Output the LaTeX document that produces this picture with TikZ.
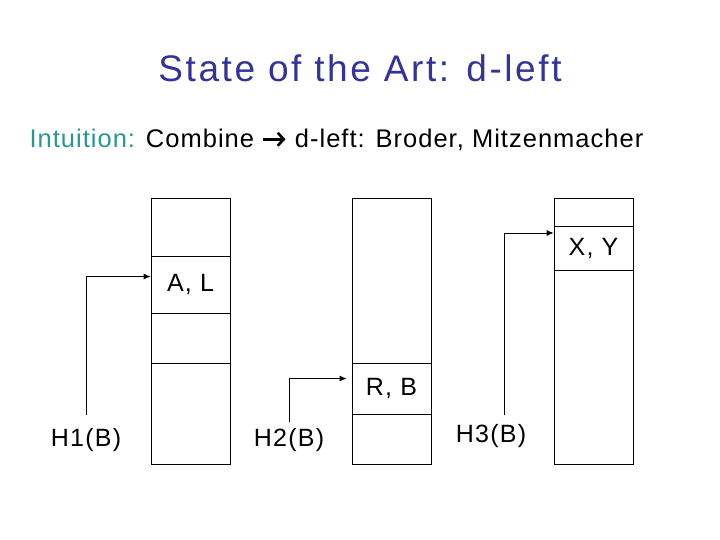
\documentclass[tikz,border=0pt]{standalone}
\usepackage{fontspec}
\setmainfont{Liberation Sans}
\newfontfamily\titlefont[LetterSpace=7]{Liberation Sans}
\newfontfamily\introfont[LetterSpace=4]{Liberation Sans}
\newfontfamily\labelfont[LetterSpace=5]{Liberation Sans}
\usepackage{tikz}
\usetikzlibrary{arrows.meta}
\definecolor{titleblue}{RGB}{51,51,153}
\definecolor{intuteal}{RGB}{38,150,150}
\newcommand{\bigarrow}{\tikz[baseline=-0.62ex]\draw[line width=2.6pt,-{Straight Barb[length=6pt,width=13pt,line width=2.6pt]}] (0pt,0pt) -- (22pt,0pt);}

\begin{document}
\begin{tikzpicture}[x=1pt,y=-1pt,>={Latex[length=7pt,width=6pt]},
  every node/.style={font=\labelfont\fontsize{25}{29}\selectfont},
  cell/.style={draw,line width=0.8pt,minimum width=79,inner sep=0pt}]
\useasboundingbox (0,0) rectangle (720,540);

% Heading
\node[titleblue,font=\titlefont\fontsize{37}{42}\selectfont] (title) at (360,68) {State of the Art: d-left};
\node[anchor=west,font=\introfont\fontsize{25.5}{30}\selectfont] (intu) at (26,140) {\textcolor{intuteal}{Intuition:} Combine \bigarrow{} d-left: Broder, Mitzenmacher};

% Table 1
\node[cell,minimum height=58] (c1top) at (190.5,227) {};
\node[cell,minimum height=57] (al) at (190.5,284.5) {A, L};
\node[cell,minimum height=50] (c1mid) at (190.5,338) {};
\node[cell,minimum height=101] (c1bot) at (190.5,413.5) {};

% Table 2
\node[cell,minimum height=165] (c2top) at (391.5,280.5) {};
\node[cell,minimum height=51] (rb) at (391.5,388.5) {R, B};
\node[cell,minimum height=50] (c2bot) at (391.5,439) {};

% Table 3
\node[cell,minimum height=28] (c3top) at (593.5,212) {};
\node[cell,minimum height=44] (xy) at (593.5,248) {X, Y};
\node[cell,minimum height=194] (c3bot) at (593.5,367) {};

% Hash functions
\node (h1) at (86,440) {H1(B)};
\node (h2) at (289,440) {H2(B)};
\node (h3) at (491,436) {H3(B)};

\draw[->,line width=0.8pt] ([yshift=10]h1.north) |- ([yshift=8]al.west);
\draw[->,line width=0.8pt,shorten >=5pt] ([yshift=3]h2.north) |- ([yshift=10]rb.west);
\draw[->,line width=0.8pt] ([xshift=13,yshift=6]h3.north) |- ([yshift=15]xy.west);
\end{tikzpicture}
\end{document}
